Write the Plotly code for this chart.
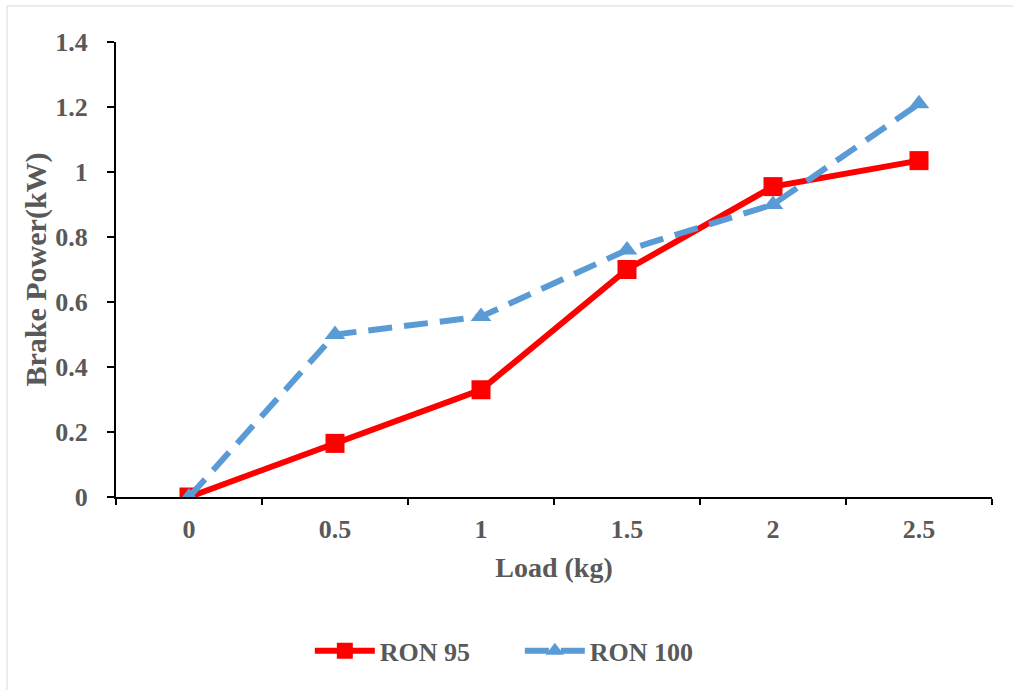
import plotly.graph_objects as go

loads = ["0", "0.5", "1", "1.5", "2", "2.5"]
ron95 = [0, 0.165, 0.33, 0.70, 0.955, 1.035]
ron100 = [0, 0.50, 0.555, 0.76, 0.90, 1.21]
y_ticks = [0, 0.2, 0.4, 0.6, 0.8, 1, 1.2, 1.4]
y_tick_text = ["0", "0.2", "0.4", "0.6", "0.8", "1", "1.2", "1.4"]

FONT = "Liberation Serif"
GREY = "#595959"

fig = go.Figure()
fig.add_trace(go.Scatter(
    x=loads, y=ron95, name="<b>RON 95</b>", mode="lines+markers",
    line=dict(color="#FF0000", width=6),
    marker=dict(symbol="square", size=19, color="#FF0000"),
))
fig.add_trace(go.Scatter(
    x=loads, y=ron100, name="<b>RON 100</b>", mode="lines+markers",
    line=dict(color="#5B9BD5", width=6, dash="24px,12px"),
    marker=dict(symbol="triangle-up", size=18, color="#5B9BD5"),
))

fig.update_layout(
    width=1013, height=690,
    margin=dict(l=116, r=21, t=42, b=193),
    paper_bgcolor="white", plot_bgcolor="white",
    font=dict(family=FONT, color=GREY, size=26),
    showlegend=True,
    legend=dict(orientation="h", x=0.461, xanchor="center", y=-0.338, yanchor="middle",
                font=dict(family=FONT, size=26, color=GREY), itemwidth=60,
                entrywidth=135, tracegroupgap=0),
    xaxis=dict(
        type="category", categoryorder="array", categoryarray=loads,
        range=[-0.5, 5.5], tickson="boundaries",
        tickvals=loads, ticktext=[f"<b>{c}</b>" for c in loads],
        showline=True, linecolor="black", linewidth=2,
        ticks="outside", ticklen=6, tickwidth=2, tickcolor="black",
        showgrid=False, zeroline=False,
        tickfont=dict(family=FONT, size=26, color=GREY),
        ticklabelstandoff=8,
        title=dict(text="<b>Load (kg)</b>", font=dict(family=FONT, size=28, color=GREY), standoff=14),
    ),
    yaxis=dict(
        range=[0, 1.4], tickvals=y_ticks, ticktext=[f"<b>{t}</b>" for t in y_tick_text],
        showline=True, linecolor="black", linewidth=2,
        ticks="outside", ticklen=7, tickwidth=2, tickcolor="black",
        showgrid=False, zeroline=False,
        tickfont=dict(family=FONT, size=26, color=GREY),
        ticklabelstandoff=14,
        title=dict(text="<b>Brake Power(kW)</b>", font=dict(family=FONT, size=30, color=GREY), standoff=0),
    ),
)

fig.add_shape(type="rect", xref="paper", yref="paper",
              x0=(7 - 116) / 876, x1=(1030 - 116) / 876,
              y0=(497 - 710) / 455, y1=(497 - 6) / 455,
              line=dict(color="#D9D9D9", width=1), fillcolor="rgba(0,0,0,0)", layer="below")

fig.write_html("out.html")
